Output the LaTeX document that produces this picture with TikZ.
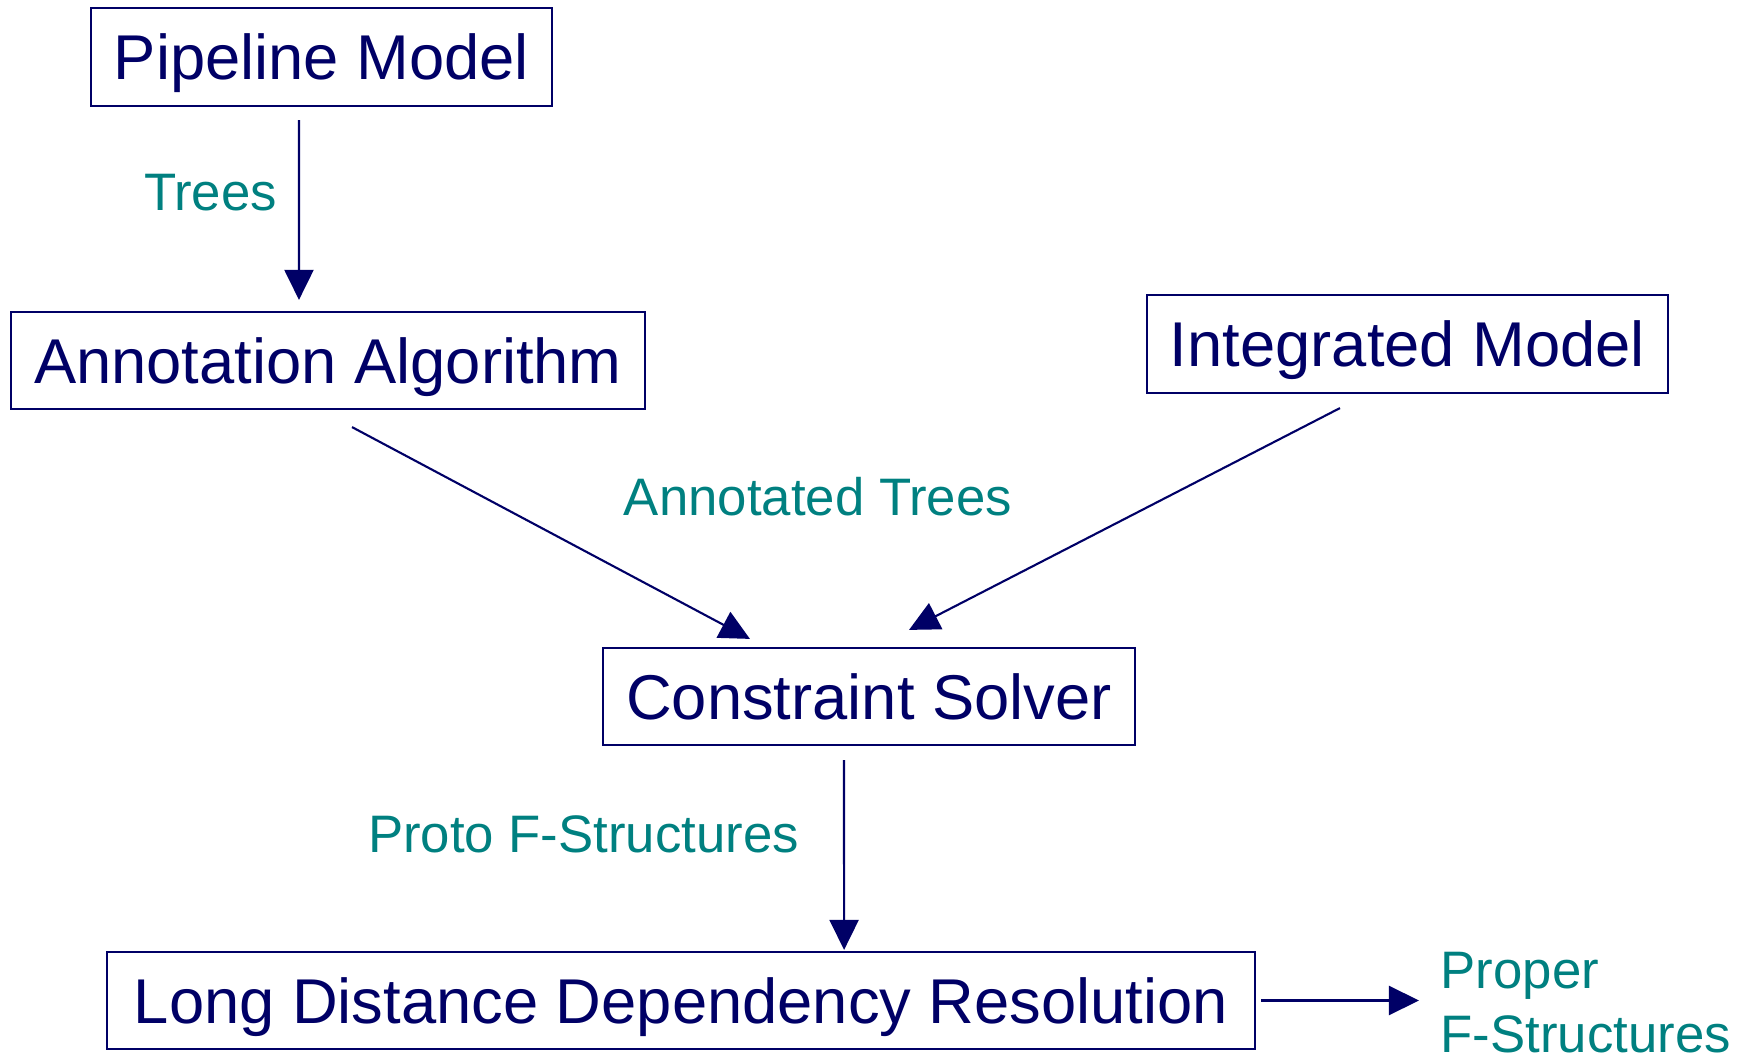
\documentclass[tikz,border=0pt]{standalone}
\usepackage{fontspec}
\setmainfont{Liberation Sans}
\usetikzlibrary{arrows.meta}
\definecolor{navy}{RGB}{0,0,102}
\definecolor{labelteal}{RGB}{0,128,128}

\begin{document}
\begin{tikzpicture}[x=0.01cm, y=-0.01cm,
	stage/.style={draw=navy, line width=0.6pt, text=navy, inner sep=0pt, font=\fontsize{18}{22}\selectfont, text height=12.9pt, text depth=0pt},
	flow/.style={draw=navy, line width=0.6pt, -{Triangle[length=0.3cm,width=0.29cm]}},
	tag/.style={text=labelteal, inner sep=0pt, font=\fontsize{15}{18}\selectfont}]
  \path[use as bounding box] (0,0) rectangle (1748,1061);

\node[stage, minimum width=4.61cm, minimum height=0.98cm] (pipe) at (321.5,57) {Pipeline Model};
\node[stage, minimum width=6.34cm, minimum height=0.97cm] (annot) at (328,360.5) {Annotation Algorithm};
\node[stage, minimum width=5.21cm, minimum height=0.98cm] (integ) at (1407.5,344) {Integrated Model};
\node[stage, minimum width=5.32cm, minimum height=0.97cm] (solver) at (869,696.5) {Constraint Solver};
\node[stage, minimum width=11.48cm, minimum height=0.97cm] (ldd) at (681,1000.5) {Long Distance Dependency Resolution};

% labels on the flows
\node[tag, text height=10.7pt, text depth=0pt] (treeslbl) at (210.5,192) {Trees};
\node[tag, text height=10.7pt, text depth=0pt] (annotlbl) at (818,497) {Annotated Trees};
\node[tag, text height=10.7pt, text depth=0pt] (protolbl) at (583.5,834) {Proto F-Structures};
\node[tag, anchor=north west, align=left] (proper) at (1440,952) {Proper\\F-Structures};

\draw[flow] ([xshift=-0.225cm,yshift=-0.13cm]pipe.south) -- ([xshift=-0.29cm,yshift=0.11cm]annot.north);
\draw[flow] ([xshift=0.24cm,yshift=-0.17cm]annot.south) -- ([xshift=-1.19cm,yshift=0.08cm]solver.north);
\draw[flow] ([xshift=-0.675cm,yshift=-0.14cm]integ.south) -- ([xshift=0.40cm,yshift=0.17cm]solver.north);
\draw[flow] ([xshift=-0.25cm,yshift=-0.14cm]solver.south) -- ([xshift=1.63cm,yshift=0.01cm]ldd.north);
\draw[flow, shorten >=0.21cm] ([xshift=0.05cm]ldd.east) -- (ldd.east -| proper.west);
\end{tikzpicture}
\end{document}
